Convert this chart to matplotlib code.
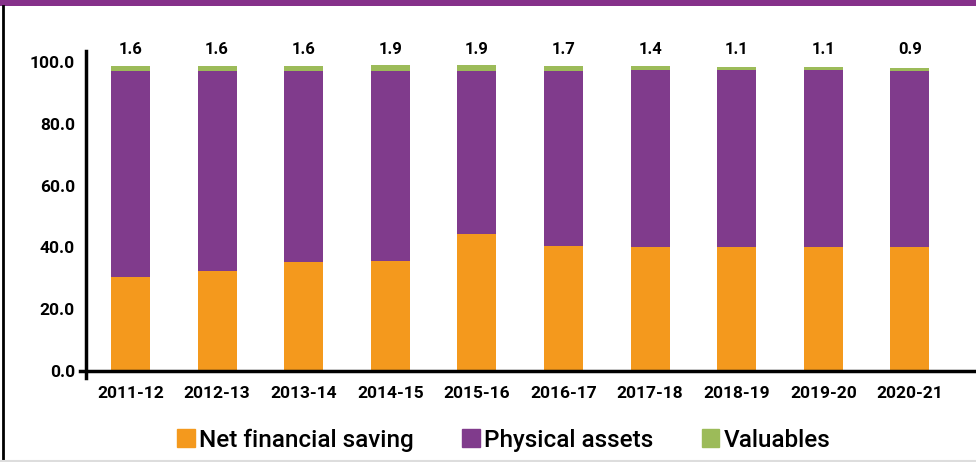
import matplotlib
matplotlib.use("Agg")
import matplotlib.pyplot as plt
import numpy as np
from matplotlib.patches import Rectangle, Patch
from matplotlib.lines import Line2D

# share of household saving (% of gross saving)
years = ["2011-12", "2012-13", "2013-14", "2014-15", "2015-16",
         "2016-17", "2017-18", "2018-19", "2019-20", "2020-21"]
net_financial = [30.3, 32.3, 35.2, 35.5, 44.2, 40.3, 40.0, 40.0, 40.0, 40.0]
physical = [66.8, 64.8, 61.9, 61.6, 52.9, 56.8, 57.4, 57.4, 57.4, 57.1]
valuables = [1.6, 1.6, 1.6, 1.9, 1.9, 1.7, 1.4, 1.1, 1.1, 0.9]

C_ORANGE = "#F4991D"
C_PURPLE = "#803B8C"
C_GREEN = "#9CBB59"

W, H = 976, 462
fig = plt.figure(figsize=(W / 100, H / 100), dpi=100)

# axes box in pixel terms
left_px, right_px, top_px, bot_px = 80, 976, 51, 378
ax = fig.add_axes([left_px / W, 1 - bot_px / H, (right_px - left_px) / W, (bot_px - top_px) / H])

x = np.arange(len(years))
bw = 0.45
nf = np.array(net_financial)
ph = np.array(physical)
va = np.array(valuables)

ax.bar(x, nf, bw, color=C_ORANGE, linewidth=0)
ax.bar(x, ph, bw, bottom=nf, color=C_PURPLE, linewidth=0)
ax.bar(x, va, bw, bottom=nf + ph, color=C_GREEN, linewidth=0)

for xi, v in zip(x, valuables):
    ax.text(xi, 104.2, f"{v:.1f}", ha="center", va="center",
            fontsize=12, fontweight="bold", family="Roboto", clip_on=False)

ax.set_xlim(-0.583, 9.763)
ax.set_ylim(-2.4, 103.6)

for s in ["top", "right"]:
    ax.spines[s].set_visible(False)
ax.spines["left"].set_position(("axes", 6 / 896))
ax.spines["bottom"].set_position(("data", 0))
for s in ["left", "bottom"]:
    ax.spines[s].set_linewidth(2.5)
    ax.spines[s].set_color("black")

ax.set_yticks([0, 20, 40, 60, 80, 100])
ax.set_yticklabels([f"{v:.1f}" for v in [0, 20, 40, 60, 80, 100]])
ax.set_xticks(x)
ax.set_xticklabels(years)
ax.tick_params(axis="y", length=0, pad=8)
ax.tick_params(axis="x", length=0, pad=11)
for lab in ax.get_xticklabels() + ax.get_yticklabels():
    lab.set_fontfamily("Roboto")
    lab.set_fontweight("bold")
    lab.set_fontsize(12.5)

# legend
handles = [Patch(color=C_ORANGE), Patch(color=C_PURPLE), Patch(color=C_GREEN)]
labels = ["Net financial saving", "Physical assets", "Valuables"]
fig.legend(handles, labels, loc="center", bbox_to_anchor=(0.516, 1 - 440 / H),
           ncol=3, frameon=False, handlelength=0.72, handleheight=0.72,
           handletextpad=0.17, columnspacing=2.0,
           prop={"family": "Roboto", "size": 17.5, "weight": "medium"})

# page frame: purple band on top, black rule on the left, grey rule at the bottom
fig.add_artist(Rectangle((0, 1 - 5.5 / H), 1, 5.5 / H, transform=fig.transFigure,
                         color="#86318A", linewidth=0))
fig.add_artist(Line2D([2.5 / W, 2.5 / W], [0, 1 - 5.5 / H], transform=fig.transFigure,
                      color="black", linewidth=2))
fig.add_artist(Line2D([0, 1], [1.5 / H, 1.5 / H], transform=fig.transFigure,
                      color="#DDDDDD", linewidth=1.5))

fig.savefig("out.png", dpi=100)
